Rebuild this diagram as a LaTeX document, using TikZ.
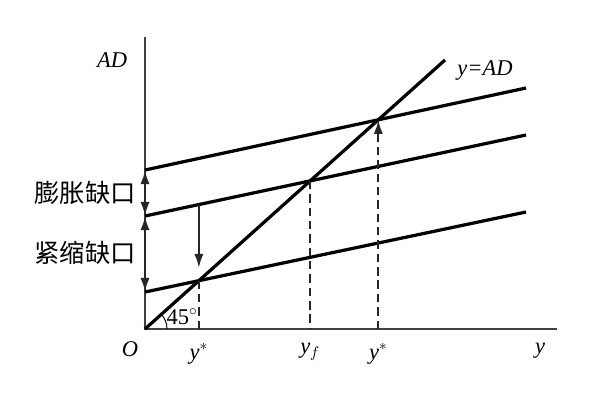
\documentclass[tikz,border=0pt]{standalone}
\usepackage{fontspec}
\setmainfont{Liberation Serif}
\newfontfamily\cjk{Noto Sans CJK SC}
\usetikzlibrary{arrows.meta, intersections, calc}

\begin{document}
\begin{tikzpicture}[x=0.025cm, y=-0.025cm]
	\tikzset{axis/.style={line width=1.6pt, black!75}}
	\tikzset{curve/.style={line width=2.3pt, black}}
	\tikzset{drop/.style={line width=1.6pt, black!85, dash pattern=on 6pt off 3.5pt}}
	\tikzset{arrow/.style={-{Latex[length=10pt, width=6.5pt]}, line width=1.6pt, black!85}}
	\tikzset{gap/.style={{Latex[length=10pt, width=6.5pt]}-{Latex[length=10pt, width=6.5pt]}, line width=1.6pt, black!85}}
	\tikzset{lbl/.style={font=\fontsize{16pt}{18pt}\selectfont\itshape, inner sep=0pt}}
	\tikzset{cn/.style={font=\fontsize{18pt}{20pt}\cjk, inner sep=0pt}}

	\useasboundingbox (0,0) rectangle (598,408);

	% axes
	\coordinate (O) at (145,329);
	\coordinate (ytop) at (145,37);
	\coordinate (xend) at (557,329);
	\draw[axis] (ytop) -- (O) -- (xend);

	% 45 degree line and the three AD lines
	\coordinate (d0) at (145,329);
	\coordinate (d1) at (445,60);
	\draw[curve, name path=diag] (d0) -- (d1);

	\coordinate (a0) at (145,170);
	\coordinate (a1) at (526,88);
	\coordinate (b0) at (145,216);
	\coordinate (b1) at (526,135);
	\coordinate (c0) at (145,292);
	\coordinate (c1) at (526,212);
	\draw[curve, name path=adtop] (a0) -- (a1);
	\draw[curve, name path=admid] (b0) -- (b1);
	\draw[curve, name path=adlow] (c0) -- (c1);

	\path[name intersections={of=diag and adtop, by=ptop}];
	\path[name intersections={of=diag and admid, by=pmid}];
	\path[name intersections={of=diag and adlow, by=plow}];

	% drops to the axis
	\coordinate (xlow) at (plow |- O);
	\coordinate (xmid) at (pmid |- O);
	\coordinate (xtop) at (ptop |- O);
	\draw[drop] (plow) -- (xlow);
	\draw[drop] (pmid) -- (xmid);
	\draw[drop] (xtop) -- ($(ptop)+(0,16)$);
	\draw[arrow] ($(ptop)+(0,18)$) -- (ptop);

	\path[name path=vlow] (plow) -- ++(0,-150);
	\path[name intersections={of=vlow and admid, by=qlow}];
	\draw[arrow, shorten >=9pt] (qlow) -- (plow);

	% gaps on the vertical axis
	\draw[gap] (a0) -- (b0);
	\draw[gap] (b0) -- (c0);

	% angle mark
	\draw[line width=0.7pt] ($(O)+(22,0)$) arc[start angle=0, end angle=42, radius=22*0.025cm];

	% labels
	\node[lbl] (lad) at (112,60) {AD};
	\node[lbl] (ldiag) at (485,70) {y=AD};
	\node[lbl] (lo) at (130,349) {O};
	\node[lbl] (ly1) at (xlow) [yshift=-0.62cm] {y$^{*}$};
	\node[lbl] (lyf) at (xmid) [yshift=-0.57cm] {y$_{f}$};
	\node[lbl] (ly2) at (xtop) [yshift=-0.62cm] {y$^{*}$};
	\node[lbl] (ly) at (540,351) {y};
	\node[inner sep=0pt, font=\fontsize{16pt}{18pt}\selectfont] (ang) at (182,317) {45$^{\circ}$};
	\node[cn] (linf) at (85,193) {膨胀缺口};
	\node[cn] (ldef) at (85,253) {紧缩缺口};
\end{tikzpicture}
\end{document}
